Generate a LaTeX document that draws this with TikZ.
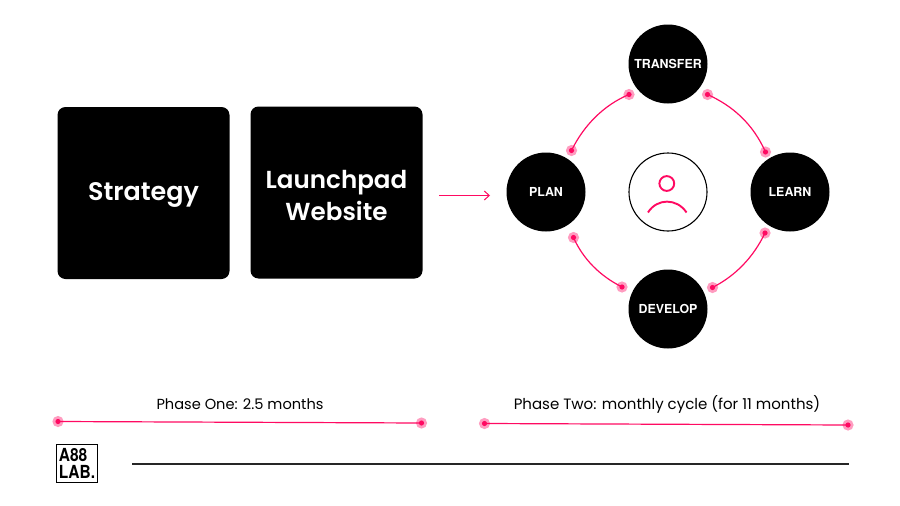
\documentclass[tikz,border=0pt]{standalone}
\usepackage{fontspec}
\setmainfont{Poppins}
\newfontfamily\medfont{Poppins SemiBold}
\newfontfamily\herofont{TeX Gyre Heros}
\newfontfamily\logofont[FakeStretch=0.86]{TeX Gyre Heros}
\usetikzlibrary{arrows.meta}
\definecolor{hot}{HTML}{FF0A62}
\definecolor{halo}{HTML}{FF9CC0}
\tikzset{
  card/.style={fill=black,rounded corners=8pt,minimum size=172pt,inner sep=0pt},
  cardtext/.style={inner sep=0pt,text=white,align=center,font=\medfont\fontsize{25.4}{31.5}\selectfont},
  stage/.style={circle,fill=black,minimum size=79pt,inner sep=0pt,text=white,font=\herofont\fontsize{12.4}{15}\selectfont\bfseries},
  hub/.style={circle,draw=black,line width=1.1pt,fill=white,minimum size=78pt,inner sep=0pt},
  pinkline/.style={draw=hot,line width=1.2pt},
  phase/.style={font=\fontsize{14.6}{17}\selectfont,text=black,inner sep=0pt},
}
\newcommand{\pin}[3]{\fill[halo] (#2,#3) circle (5.6pt); \fill[hot] (#2,#3) circle (2.6pt); \coordinate (#1) at (#2,#3);}
\begin{document}
\begin{tikzpicture}[x=1pt,y=-1pt]
\useasboundingbox (0,0) rectangle (900,506);
\fill[white] (0,0) rectangle (900,506);
\node[card] (strategy) at (143.5,193) {};
\node[cardtext,anchor=base] (strategytext) at (143.5,200) {Strategy};
\node[card] (launch) at (336.5,192.5) {};
\node[cardtext,font=\medfont\fontsize{24.6}{31.5}\selectfont] (launchtext) at (336.5,195.5) {Launchpad\\Website};
\node[stage] (transfer) at (668,64) {\raisebox{1pt}{TRANSFER}};
\node[stage] (plan) at (546,192) {PLAN};
\node[stage] (learn) at (790,192) {LEARN};
\node[stage] (develop) at (668,309) {\raisebox{-0.5pt}{DEVELOP}};
\node[hub] (hub) at (668,192) {};
\draw[hot,line width=1.9pt] (666.8,183.5) circle (7.4pt);
\draw[hot,line width=1.9pt] (648,212.5) .. controls (657,198) and (677,198) .. (686.5,212.5);
\coordinate (arrowstart) at (439,195.5);
\coordinate (arrowend) at (490,195.5);
\draw[hot,line width=1pt,-{Straight Barb[length=5pt,width=9pt]}] (arrowstart) -- (arrowend);
\pin{a1}{571.5}{150.5}
\pin{a2}{629}{94.5}
\pin{b1}{707.5}{94.5}
\pin{b2}{765.5}{152}
\pin{c1}{765}{233}
\pin{c2}{712.5}{287.5}
\pin{d1}{622}{287}
\pin{d2}{573.5}{237.5}
\draw[pinkline] (a1) .. controls (584,125) and (604,105) .. (a2);
\draw[pinkline] (b1) .. controls (733,106) and (753,124) .. (b2);
\draw[pinkline] (c1) .. controls (753,258) and (735,276) .. (c2);
\draw[pinkline] (d1) .. controls (600,276) and (583,259) .. (d2);
\node[phase] (p1) at (240,404.5) {Phase One: 2.5 months};
\node[phase,font=\fontsize{15}{17}\selectfont] (p2) at (667,404.5) {Phase Two: monthly cycle (for 11 months)};
\pin{e1}{58}{421.5}
\pin{e2}{421.5}{423}
\pin{f1}{484.5}{423.5}
\pin{f2}{848}{425}
\draw[pinkline] (e1) -- (e2);
\draw[pinkline] (f1) -- (f2);
\node[draw=black,line width=1.3pt,minimum width=41pt,minimum height=38.5pt,inner sep=0pt,align=left,font=\logofont\fontsize{18}{17.5}\selectfont\bfseries] (logo) at (77,463.5) {A88\\LAB.};
\coordinate (r1) at (132,464);
\coordinate (r2) at (849,464);
\draw[black!85,line width=1.1pt] (r1) -- (r2);
\end{tikzpicture}
\end{document}
